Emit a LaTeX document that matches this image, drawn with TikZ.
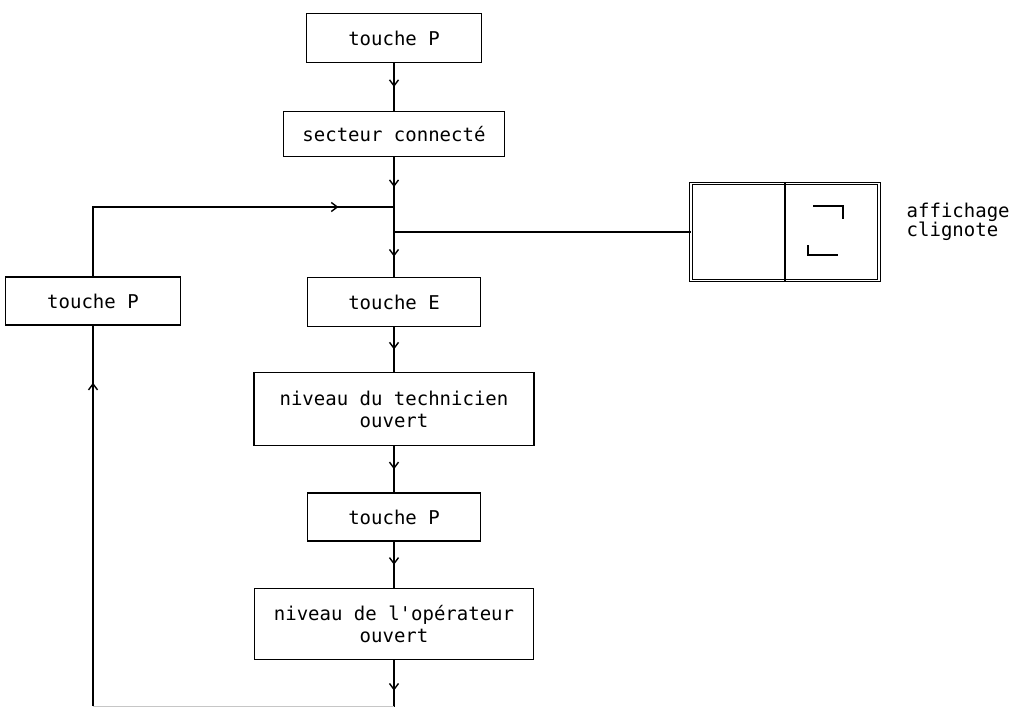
\documentclass[tikz,border=0pt]{standalone}
\usepackage{fontspec}
\setmonofont{DejaVu Sans Mono}
\usetikzlibrary{arrows.meta,decorations.markings}

\begin{document}
\begin{tikzpicture}[x=1pt, y=-1pt, line width=1.4pt,
    every node/.style={font=\ttfamily\fontsize{19}{22}\selectfont},
    box/.style={draw, rectangle, align=center, inner sep=0pt},
    arr/.style={postaction={decorate}, decoration={markings,
        mark=at position #1 with {\arrow{Straight Barb[length=6pt,width=9pt]}}}},
    arr/.default=0.5]

    \useasboundingbox (0,0) rectangle (1016,707);

    % Main column
    \node[box, minimum width=175, minimum height=49] (p1) at (394,38) {touche P};
    \node[box, minimum width=221, minimum height=45] (sect) at (394,134) {secteur connecté};
    \node[box, minimum width=173, minimum height=49] (pE) at (394,302) {touche E};
    \node[box, minimum width=280, minimum height=73] (tech) at (394,409) {niveau du technicien\\ouvert};
    \node[box, minimum width=173, minimum height=48] (p2) at (394,517) {touche P};
    \node[box, minimum width=279, minimum height=71] (oper) at (394,624) {niveau de l'opérateur\\ouvert};

    % Left branch
    \node[box, minimum width=175, minimum height=48] (pL) at (93,301) {touche P};

    % Display
    \node[draw, double, double distance=1.5pt, line width=0.9pt, minimum width=188, minimum height=97] (disp) at (785,232) {};
    \draw (disp.north) -- (disp.south);
    \draw[line width=1.8pt] (813,206) -- (843,206) -- (843,219);
    \draw[line width=1.8pt] (808,245) -- (808,255) -- (838,255);
    \node[anchor=west, align=left, inner sep=0pt, font=\ttfamily\fontsize{19}{18}\selectfont] (lbl) at (906,222) {affichage\\clignote};

    % Edges
    \coordinate (join) at (394,207);
    \coordinate (tap) at (394,232);
    \coordinate (end) at (394,707);
    \coordinate (endL) at (93,706);

    \draw[arr] (p1) -- (sect);
    \draw[arr=0.6] (sect) -- (join);
    \draw (join) -- (tap);
    \draw[arr=0.55] (tap) -- (pE);
    \draw[arr] (pE) -- (tech);
    \draw[arr] (tech) -- (p2);
    \draw[arr] (p2) -- (oper);
    \draw[arr=0.65] (oper) -- (end);
    \draw (tap) -- (disp);
    \draw[arr=0.85] (pL) |- (join);
    \draw[gray!45, line width=0.8pt] (end |- endL) -- (endL);
    \draw[arr=0.85] (endL) -- (pL);

\end{tikzpicture}
\end{document}
